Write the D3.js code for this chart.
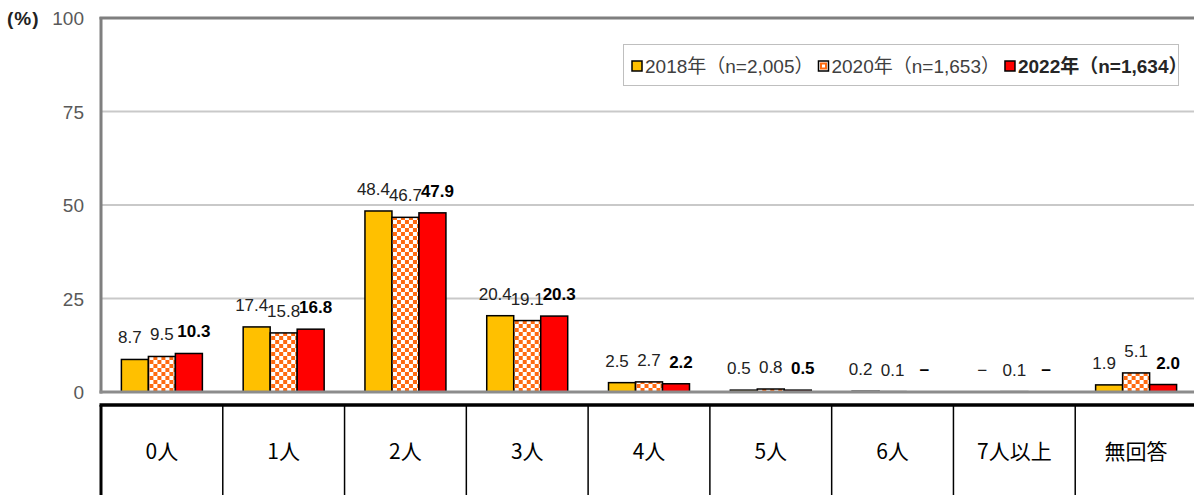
<!DOCTYPE html>
<meta charset="utf-8">
<script src="https://d3js.org/d3.v7.min.js"></script>
<style>
  body { margin: 0; background: #fff; }
  svg { display: block; font-family: "Liberation Sans", Arial, "Noto Sans CJK JP", sans-serif; }
</style>
<body>
<svg id="chart" width="1194" height="495"></svg>
<script>
  // categories and series
  var categories = ["0人", "1人", "2人", "3人", "4人", "5人", "6人", "7人以上", "無回答"];
  var seriesNames = ["2018年（n=2,005）", "2020年（n=1,653）", "2022年（n=1,634）"];
  var v2018 = [8.7, 17.4, 48.4, 20.4, 2.5, 0.5, 0.2, null, 1.9];
  var v2020 = [9.5, 15.8, 46.7, 19.1, 2.7, 0.8, 0.1, 0.1, 5.1];
  var v2022 = [10.3, 16.8, 47.9, 20.3, 2.2, 0.5, null, null, 2.0];
  var yTicks = [0, 25, 50, 75, 100];

  var seriesValues = [v2018, v2020, v2022];
  var fills = ["#FFC000", "url(#checker)", "#FF0000"];

  var svg = d3.select("#chart");
  var plotLeft = 101, plotRight = 1197, plotTop = 18, plotBottom = 392;

  var defs = svg.append("defs");
  var pat = defs.append("pattern")
      .attr("id", "checker")
      .attr("width", 8).attr("height", 8)
      .attr("patternUnits", "userSpaceOnUse");
  pat.append("rect").attr("width", 8).attr("height", 8).attr("fill", "#FF6A10");
  pat.append("rect").attr("x", 0).attr("y", 0).attr("width", 4).attr("height", 4).attr("fill", "#fff");
  pat.append("rect").attr("x", 4).attr("y", 4).attr("width", 4).attr("height", 4).attr("fill", "#fff");

  var x0 = d3.scaleBand()
      .domain(categories)
      .range([plotLeft, plotRight])
      .paddingInner(0.335)
      .paddingOuter(0.1675);

  var x1 = d3.scaleBand()
      .domain(d3.range(seriesNames.length))
      .range([0, x0.bandwidth()]);

  var y = d3.scaleLinear().domain([0, 100]).range([plotBottom, plotTop]);

  // gridlines
  svg.append("g").selectAll("line")
      .data(yTicks.filter(function(t) { return t > 0 && t < 100; }))
    .enter().append("line")
      .attr("x1", plotLeft).attr("x2", 1194)
      .attr("y1", function(d) { return y(d); })
      .attr("y2", function(d) { return y(d); })
      .attr("stroke", "#c9c9c9")
      .attr("stroke-width", 2);

  // y axis
  var yAxis = svg.append("g")
      .attr("transform", "translate(" + (plotLeft - 17) + ",0)")
      .call(d3.axisLeft(y).tickValues(yTicks).tickSize(0).tickPadding(0));
  yAxis.select(".domain").remove();
  yAxis.selectAll("text")
      .attr("fill", "#595959")
      .style("font-size", "19px")
      .style("font-family", "'Liberation Sans', Arial, sans-serif")
      .attr("dy", "0.35em");

  svg.append("text")
      .attr("x", 7).attr("y", 25)
      .attr("fill", "#222")
      .style("font-size", "19px")
      .style("font-weight", "bold")
      .style("letter-spacing", "1px")
      .text("(%)");

  // bars
  var groups = svg.append("g").selectAll("g")
      .data(categories)
    .enter().append("g")
      .attr("transform", function(d) { return "translate(" + x0(d) + ",0)"; });

  groups.selectAll("rect")
      .data(function(d, i) {
        return seriesValues.map(function(s, k) { return { k: k, v: s[i] }; })
          .filter(function(e) { return e.v !== null; });
      })
    .enter().append("rect")
      .attr("x", function(d) { return x1(d.k); })
      .attr("width", x1.bandwidth())
      .attr("y", function(d) { return y(d.v); })
      .attr("height", function(d) { return plotBottom - y(d.v); })
      .attr("fill", function(d) { return fills[d.k]; })
      .attr("stroke", "#000")
      .attr("stroke-width", 1.5);

  // value labels, spread a little wider than the bars so they don't collide
  groups.selectAll("text")
      .data(function(d, i) {
        return seriesValues.map(function(s, k) { return { k: k, v: s[i] }; });
      })
    .enter().append("text")
      .attr("x", function(d) { return x1(d.k) + x1.bandwidth() / 2 + (d.k - 1) * 5; })
      .attr("y", function(d) { return y(d.v === null ? 0 : d.v) - 16; })
      .attr("text-anchor", "middle")
      .attr("fill", function(d) { return d.k === 2 ? "#000" : "#222"; })
      .style("font-size", "17px")
      .style("font-weight", function(d) { return d.k === 2 ? "bold" : "normal"; })
      .text(function(d) { return d.v === null ? "−" : d.v.toFixed(1); });

  // frame: left, top, bottom axis
  svg.append("line").attr("x1", plotLeft).attr("x2", plotLeft)
      .attr("y1", plotTop - 1).attr("y2", plotBottom + 1.5)
      .attr("stroke", "#7f7f7f").attr("stroke-width", 3);
  svg.append("line").attr("x1", plotLeft - 1.5).attr("x2", 1194)
      .attr("y1", plotTop).attr("y2", plotTop)
      .attr("stroke", "#7f7f7f").attr("stroke-width", 3);
  svg.append("line").attr("x1", plotLeft - 1.5).attr("x2", 1194)
      .attr("y1", plotBottom).attr("y2", plotBottom)
      .attr("stroke", "#8c8c8c").attr("stroke-width", 3);

  // category table
  var tableTop = 405;
  svg.append("line").attr("x1", plotLeft - 1.5).attr("x2", 1194)
      .attr("y1", tableTop).attr("y2", tableTop)
      .attr("stroke", "#000").attr("stroke-width", 3.5);
  svg.append("line").attr("x1", plotLeft).attr("x2", plotLeft)
      .attr("y1", tableTop).attr("y2", 495)
      .attr("stroke", "#000").attr("stroke-width", 3);
  svg.append("g").selectAll("line")
      .data(categories.slice(1))
    .enter().append("line")
      .attr("x1", function(d) { return x0(d) - x0.step() * x0.paddingInner() / 2; })
      .attr("x2", function(d) { return x0(d) - x0.step() * x0.paddingInner() / 2; })
      .attr("y1", tableTop).attr("y2", 495)
      .attr("stroke", "#000").attr("stroke-width", 1.5);
  svg.append("g").selectAll("text")
      .data(categories)
    .enter().append("text")
      .attr("x", function(d) { return x0(d) + x0.bandwidth() / 2; })
      .attr("y", 459)
      .attr("text-anchor", "middle")
      .attr("fill", "#000")
      .style("font-family", "'Noto Sans CJK JP', sans-serif")
      .style("font-size", "21px")
      .text(function(d) { return d; });

  // legend
  var legend = svg.append("g");
  legend.append("rect")
      .attr("x", 623.5).attr("y", 44.5).attr("width", 555).attr("height", 41)
      .attr("fill", "#fff").attr("stroke", "#bfbfbf").attr("stroke-width", 1);
  var lx = 632;
  seriesNames.forEach(function(name, k) {
    legend.append("rect")
        .attr("x", lx).attr("y", 61).attr("width", 10).attr("height", 10)
        .attr("fill", k === 1 ? "#fff" : fills[k])
        .attr("stroke", "#000").attr("stroke-width", 1.5);
    if (k === 1) {
      legend.append("rect").attr("x", lx + 1.5).attr("y", 62.5).attr("width", 7).attr("height", 7)
          .attr("fill", "#FF6A10");
      legend.append("rect").attr("x", lx + 3.5).attr("y", 64.5).attr("width", 3).attr("height", 3)
          .attr("fill", "#fff");
    }
    var t = legend.append("text")
        .attr("x", lx + 13).attr("y", 73)
        .attr("fill", k === 2 ? "#262626" : "#404040")
        .style("font-size", "19px")
        .style("font-weight", k === 2 ? "bold" : "normal")
        .text(name);
    lx += 13 + t.node().getComputedTextLength() + 5;
  });
</script>
</body>
